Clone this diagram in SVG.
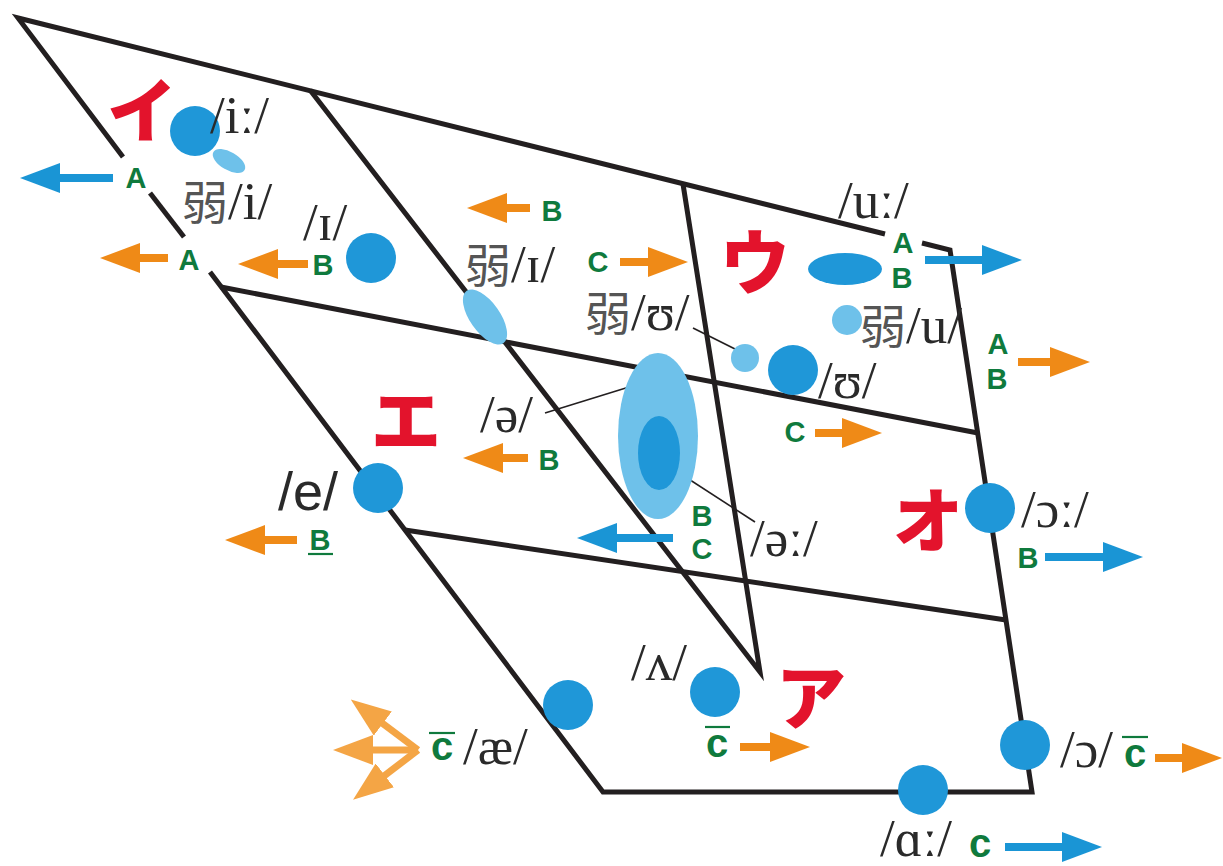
<svg xmlns="http://www.w3.org/2000/svg" width="1223" height="866" viewBox="0 0 1223 866">
<style>
.frame{fill:none;stroke:#231f20;stroke-width:5;stroke-linejoin:miter;stroke-miterlimit:6}
.lead{stroke:#231f20;stroke-width:1.6}
.dot{fill:#1f97d8}
.lt{fill:#6ec1ea}
.ipa{font-family:"Liberation Serif","DejaVu Serif",serif;font-size:53px;fill:#2a2a2a}
.ipas{font-family:"Liberation Sans","DejaVu Sans",sans-serif;font-size:54px;fill:#2a2a2a}
.cjk{font-family:"Noto Sans CJK JP","Noto Sans CJK SC",sans-serif;font-size:46px;fill:#555}
.kana{font-family:"Noto Sans CJK JP","Noto Sans CJK SC",sans-serif;font-size:70px;font-weight:900;fill:#e3132c;text-anchor:middle}
.g{font-family:"Liberation Sans","Arial",sans-serif;font-weight:bold;font-size:29px;fill:#0f7a3d;text-anchor:middle}
.gc{font-family:"Liberation Sans","Arial",sans-serif;font-weight:bold;font-size:40px;fill:#0f7a3d;text-anchor:middle}
.bar{stroke:#0f7a3d;stroke-width:2.2}
.ao{stroke:#ef8a17;stroke-width:8;marker-end:url(#mo)}
.ab{stroke:#1a95d5;stroke-width:8;marker-end:url(#mb)}
.al{stroke:#f4a545;stroke-width:7;marker-end:url(#ml)}
</style>
<defs>
<marker id="mo" viewBox="0 0 40 30" refX="1" refY="15" markerWidth="40" markerHeight="30" markerUnits="userSpaceOnUse" orient="auto"><path d="M0,0 L40,15 L0,30 Z" fill="#ef8a17"/></marker>
<marker id="mb" viewBox="0 0 40 30" refX="1" refY="15" markerWidth="40" markerHeight="30" markerUnits="userSpaceOnUse" orient="auto"><path d="M0,0 L40,15 L0,30 Z" fill="#1a95d5"/></marker>
<marker id="ml" viewBox="0 0 40 30" refX="1" refY="15" markerWidth="40" markerHeight="30" markerUnits="userSpaceOnUse" orient="auto"><path d="M0,0 L40,15 L0,30 Z" fill="#f4a545"/></marker>
</defs>
<rect width="1223" height="866" fill="#fff"/>

<g id="grid">
<polyline class="frame" points="123,157 18,18 885,234"/>
<polyline class="frame" points="922,243 950,250 1032,792 603,792 210,272"/>
<line class="frame" x1="150" y1="193" x2="184" y2="237"/>
<polyline class="frame" points="310,90 760,672 683,184"/>
<line class="frame" x1="221" y1="287" x2="978" y2="433"/>
<line class="frame" x1="405" y1="530" x2="1006" y2="620"/>
</g>

<g id="connectors">
<line class="lead" x1="545" y1="413" x2="642" y2="383"/>
<line class="lead" x1="667" y1="465" x2="755" y2="522"/>
<line class="lead" x1="693" y1="328" x2="743" y2="353"/>
<line class="ab" x1="113" y1="178" x2="59" y2="178"/>
<line class="ab" x1="925" y1="260" x2="983" y2="260"/>
<line class="ab" x1="673" y1="538" x2="616" y2="538"/>
<line class="ab" x1="1045" y1="557" x2="1104" y2="557"/>
<line class="ab" x1="1005" y1="847" x2="1063" y2="847"/>
<line class="ao" x1="168" y1="258" x2="139" y2="258"/>
<line class="ao" x1="308" y1="264" x2="277" y2="264"/>
<line class="ao" x1="530" y1="208" x2="506" y2="208"/>
<line class="ao" x1="620" y1="262" x2="649" y2="262"/>
<line class="ao" x1="1018" y1="362" x2="1051" y2="362"/>
<line class="ao" x1="815" y1="433" x2="843" y2="433"/>
<line class="ao" x1="528" y1="458" x2="502" y2="458"/>
<line class="ao" x1="297" y1="540" x2="264" y2="540"/>
<line class="ao" x1="740" y1="747" x2="771" y2="747"/>
<line class="ao" x1="1155" y1="758" x2="1183" y2="758"/>
<line class="al" x1="418" y1="750" x2="382" y2="723"/>
<line class="al" x1="418" y1="750" x2="372" y2="750"/>
<line class="al" x1="418" y1="750" x2="384" y2="776"/>
</g>

<g id="v-i-long">
<ellipse class="lt" cx="229" cy="161" rx="18" ry="9" transform="rotate(30 229 161)"/>
<circle class="dot" cx="195" cy="131" r="25"/>
<text class="kana" x="142" y="137">イ</text>
<text class="ipa" x="210" y="133">/iː/</text>
<text class="g" x="136" y="188">A</text>
</g>
<g id="v-i-weak">
<text class="ipa" x="182" y="219"><tspan class="cjk">弱</tspan>/i/</text>
<text class="g" x="189" y="270">A</text>
</g>
<g id="v-I">
<circle class="dot" cx="371" cy="258" r="25"/>
<text class="ipa" x="303" y="240">/ɪ/</text>
<text class="g" x="323" y="275">B</text>
</g>
<g id="v-I-weak">
<ellipse class="lt" cx="485" cy="317" rx="15" ry="32" transform="rotate(-35 485 317)"/>
<text class="ipa" x="465" y="282"><tspan class="cjk">弱</tspan>/ɪ/</text>
<text class="g" x="552" y="221">B</text>
<text class="g" x="598" y="272">C</text>
</g>
<g id="v-u-long">
<ellipse class="dot" cx="845" cy="269" rx="37" ry="16"/>
<text class="kana" x="755" y="289">ウ</text>
<text class="ipa" x="838" y="218">/uː/</text>
<text class="g" x="903" y="253">A</text>
<text class="g" x="902" y="288">B</text>
</g>
<g id="v-u-weak">
<circle class="lt" cx="847" cy="320" r="15"/>
<text class="ipa" x="860" y="343"><tspan class="cjk">弱</tspan>/u/</text>
<text class="g" x="998" y="354">A</text>
<text class="g" x="997" y="389">B</text>
</g>
<g id="v-U-weak">
<circle class="lt" cx="745" cy="358" r="14"/>
<text class="ipa" x="585" y="330"><tspan class="cjk">弱</tspan>/ʊ/</text>
</g>
<g id="v-U">
<circle class="dot" cx="793" cy="370" r="25"/>
<text class="ipa" x="818" y="398">/ʊ/</text>
<text class="g" x="795" y="442">C</text>
</g>
<g id="v-schwa">
<ellipse class="lt" cx="658" cy="436" rx="40" ry="83"/>
<text class="ipa" x="480" y="432">/ə/</text>
<text class="g" x="549" y="470">B</text>
</g>
<g id="v-schwa-long">
<ellipse class="dot" cx="659" cy="453" rx="21" ry="37"/>
<text class="ipa" x="750" y="556">/əː/</text>
<text class="g" x="702" y="526">B</text>
<text class="g" x="702" y="559">C</text>
</g>
<g id="v-e">
<circle class="dot" cx="378" cy="488" r="25"/>
<text class="kana" x="406" y="447">エ</text>
<text class="ipas" x="278" y="510">/e/</text>
<text class="g" x="320" y="550">B</text>
<line class="bar" x1="308" y1="554" x2="333" y2="554"/>
</g>
<g id="v-o-long">
<circle class="dot" cx="990" cy="508" r="25"/>
<text class="kana" x="928" y="547">オ</text>
<text class="ipa" x="1021" y="527">/ɔː/</text>
<text class="g" x="1028" y="568">B</text>
</g>
<g id="v-wedge">
<circle class="dot" cx="715" cy="692" r="25"/>
<text class="kana" x="811" y="724">ア</text>
<text class="ipa" x="631" y="680">/ʌ/</text>
<text class="gc" x="717" y="757">c</text>
<line class="bar" x1="705" y1="727" x2="730" y2="727"/>
</g>
<g id="v-ae">
<circle class="dot" cx="568" cy="705" r="25"/>
<text class="ipa" x="463" y="764">/æ/</text>
<text class="gc" x="442" y="760">c</text>
<line class="bar" x1="429" y1="733" x2="455" y2="733"/>
</g>
<g id="v-o">
<circle class="dot" cx="1025" cy="745" r="25"/>
<text class="ipa" x="1060" y="767">/ɔ/</text>
<text class="gc" x="1135" y="767">c</text>
<line class="bar" x1="1122" y1="737" x2="1148" y2="737"/>
</g>
<g id="v-a-long">
<circle class="dot" cx="923" cy="790" r="25"/>
<text class="ipa" x="880" y="856">/ɑː/</text>
<text class="gc" x="980" y="857">c</text>
</g>
</svg>
